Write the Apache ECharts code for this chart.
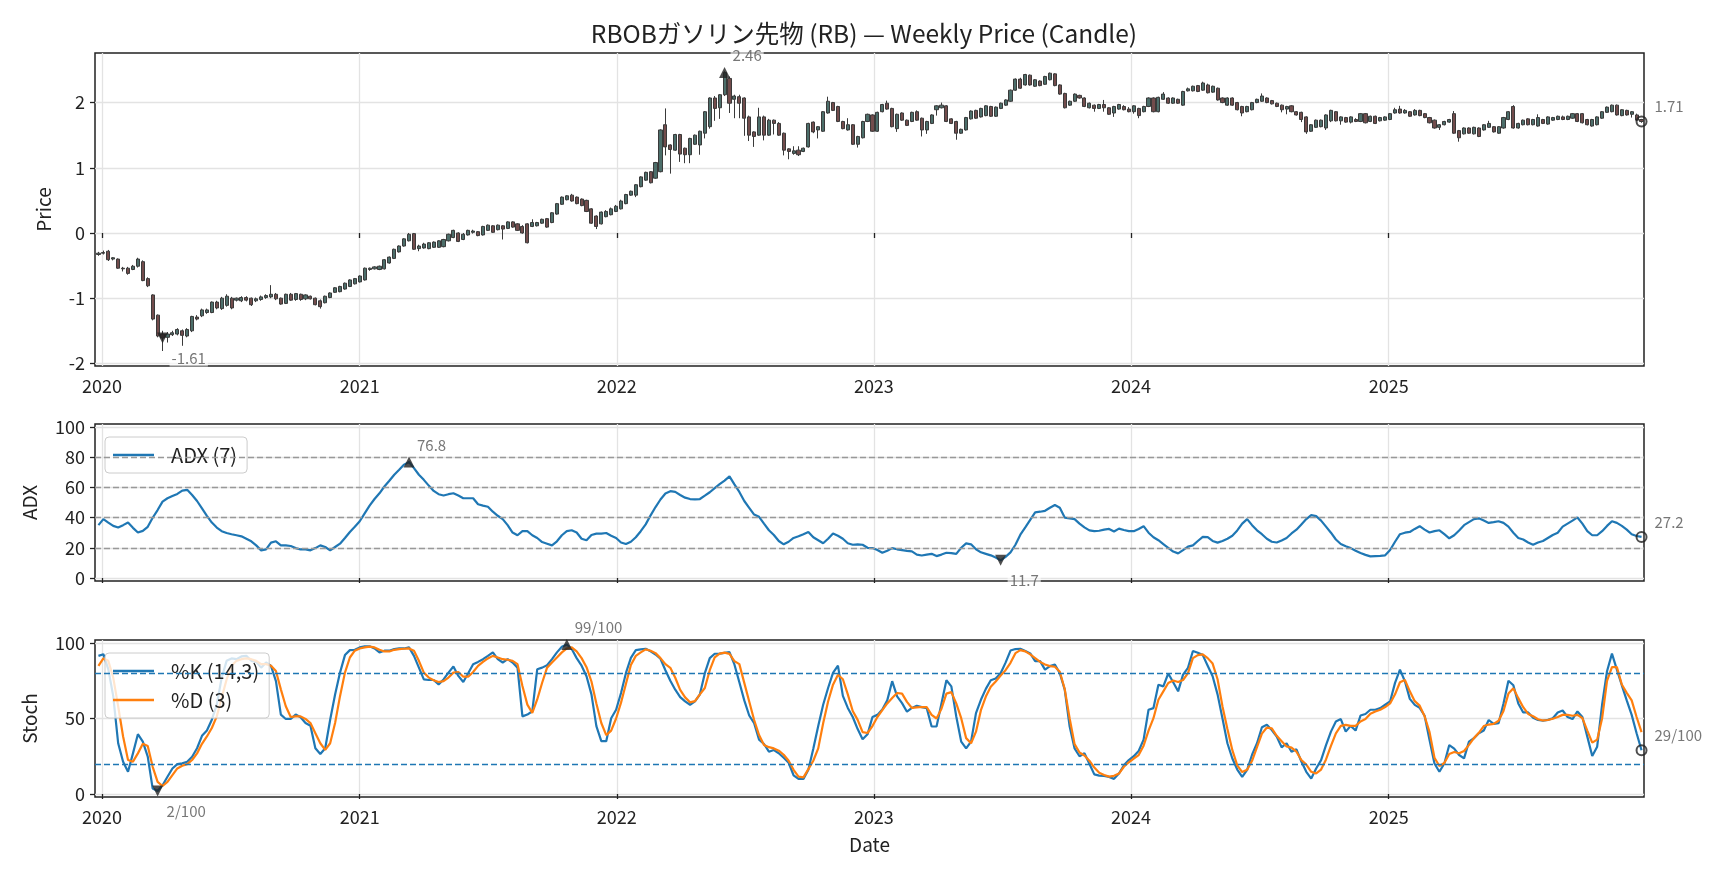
<!DOCTYPE html>
<html>
<head>
<meta charset="utf-8">
<script src="https://cdn.jsdelivr.net/npm/echarts@6.0.0/dist/echarts.min.js"></script>
<style>
html,body{margin:0;padding:0;background:#ffffff;}
#chart{width:1728px;height:878px;}
</style>
</head>
<body>
<div id="chart"></div>
<script>
// ---------------- data ----------------
const startDate = Date.UTC(2019, 11, 27);   // first weekly bar
const WEEK_MS = 7 * 86400000;
const yearTicks = [2020, 2021, 2022, 2023, 2024, 2025];
const priceTicks = [-2, -1, 0, 1, 2];
const adxTicks = [0, 20, 40, 60, 80, 100];
const stochTicks = [0, 50, 100];
const adxLevels = [20, 40, 60, 80];
const stochLevels = [20, 80];

const open = [
-0.33,-0.31,-0.28,-0.40,-0.40,-0.54,-0.54,-0.56,-0.51,-0.44,
-0.70,-0.95,-1.26,-1.55,-1.60,-1.56,-1.55,-1.50,-1.58,-1.50,
-1.29,-1.27,-1.22,-1.22,-1.06,-1.16,-1.11,-1.00,-1.03,-1.04,
-0.99,-1.00,-1.04,-1.02,-0.99,-0.98,-0.94,-1.00,-1.08,-0.94,
-1.02,-0.94,-1.01,-0.97,-1.00,-1.04,-1.07,-0.99,-0.91,-0.90,
-0.86,-0.82,-0.78,-0.75,-0.72,-0.56,-0.55,-0.56,-0.55,-0.46,
-0.39,-0.29,-0.20,-0.12,-0.01,-0.24,-0.23,-0.24,-0.22,-0.22,
-0.21,-0.12,-0.07,0.00,-0.10,-0.03,0.01,0.02,-0.03,0.04,
0.11,0.05,0.11,0.07,0.17,0.14,0.10,0.14,0.10,0.11,
0.15,0.22,0.16,0.29,0.44,0.51,0.58,0.55,0.52,0.50,
0.37,0.26,0.14,0.25,0.28,0.33,0.37,0.45,0.58,0.58,
0.71,0.81,0.94,0.84,0.94,1.66,1.35,1.27,1.51,1.30,
1.20,1.36,1.35,1.53,1.63,2.07,1.92,2.12,2.37,2.05,
2.09,2.07,1.78,1.55,1.50,1.78,1.50,1.73,1.68,1.53,
1.29,1.22,1.27,1.25,1.32,1.70,1.58,1.56,1.84,2.00,
1.94,1.71,1.58,1.66,1.36,1.46,1.71,1.81,1.56,1.86,
1.99,1.91,1.60,1.84,1.73,1.71,1.86,1.76,1.58,1.68,
1.89,1.92,1.95,1.75,1.71,1.53,1.58,1.75,1.88,1.78,
1.80,1.94,1.79,1.91,1.96,2.02,2.19,2.36,2.27,2.42,
2.25,2.33,2.28,2.35,2.44,2.27,2.14,1.96,2.02,2.11,
2.07,1.92,1.96,1.91,1.97,1.92,1.84,1.90,1.94,1.90,
1.86,1.91,1.86,1.94,2.07,1.86,2.05,2.07,1.99,2.05,
1.96,2.18,2.18,2.26,2.19,2.27,2.16,2.22,2.07,1.96,
2.07,2.00,1.94,1.86,1.89,2.00,2.02,2.07,2.03,1.99,
1.96,1.90,1.95,1.86,1.85,1.78,1.56,1.62,1.63,1.61,
1.72,1.86,1.72,1.77,1.70,1.74,1.71,1.83,1.71,1.79,
1.72,1.73,1.74,1.84,1.90,1.84,1.86,1.81,1.88,1.83,
1.77,1.73,1.62,1.66,1.70,1.83,1.57,1.52,1.61,1.52,
1.61,1.58,1.62,1.63,1.53,1.61,1.74,1.94,1.61,1.66,
1.75,1.66,1.64,1.74,1.67,1.73,1.74,1.78,1.74,1.76,
1.83,1.83,1.74,1.64,1.66,1.76,1.85,1.86,1.96,1.80,
1.88,1.82,1.81,1.74
];
const close = [
-0.31,-0.30,-0.41,-0.38,-0.54,-0.55,-0.62,-0.51,-0.40,-0.73,
-0.81,-1.32,-1.58,-1.61,-1.55,-1.53,-1.48,-1.57,-1.48,-1.28,
-1.32,-1.18,-1.18,-1.06,-1.15,-1.00,-0.97,-1.15,-1.00,-0.99,
-1.03,-1.10,-1.01,-0.98,-0.96,-0.94,-1.01,-1.09,-0.94,-1.03,
-0.93,-1.02,-0.95,-1.01,-1.10,-1.13,-0.97,-0.92,-0.84,-0.82,
-0.77,-0.72,-0.70,-0.66,-0.54,-0.54,-0.52,-0.51,-0.41,-0.37,
-0.25,-0.20,-0.09,-0.02,-0.25,-0.20,-0.17,-0.15,-0.14,-0.12,
-0.10,-0.02,0.04,-0.13,-0.02,0.04,0.03,-0.04,0.10,0.12,
0.01,0.12,0.06,0.17,0.09,0.04,0.00,-0.15,0.16,0.16,
0.21,0.09,0.31,0.45,0.55,0.57,0.49,0.45,0.42,0.33,
0.15,0.10,0.32,0.33,0.37,0.41,0.49,0.59,0.64,0.74,
0.86,0.93,0.77,1.08,1.58,1.32,1.28,1.51,1.21,1.20,
1.45,1.50,1.56,1.86,2.07,1.91,2.12,2.46,1.99,2.10,
1.99,1.76,1.50,1.48,1.78,1.50,1.73,1.68,1.50,1.27,
1.25,1.26,1.20,1.30,1.68,1.55,1.63,1.86,2.02,1.88,
1.71,1.60,1.66,1.36,1.48,1.71,1.82,1.56,1.85,1.97,
1.90,1.63,1.82,1.73,1.65,1.85,1.73,1.58,1.71,1.81,
1.95,1.96,1.71,1.68,1.53,1.59,1.77,1.87,1.76,1.91,
1.95,1.79,1.93,1.99,2.04,2.19,2.36,2.22,2.43,2.27,
2.35,2.26,2.40,2.45,2.26,2.13,1.92,2.02,2.13,2.07,
1.94,1.99,1.91,1.97,1.92,1.82,1.94,1.97,1.89,1.86,
1.95,1.80,1.94,2.07,1.86,2.08,2.13,1.99,2.07,1.99,
2.17,2.21,2.25,2.17,2.30,2.15,2.25,2.04,2.00,2.07,
1.96,1.89,1.84,1.94,2.00,2.05,2.10,2.00,1.98,1.94,
1.89,1.94,1.86,1.81,1.74,1.55,1.66,1.73,1.73,1.81,
1.88,1.72,1.78,1.70,1.78,1.71,1.83,1.69,1.79,1.68,
1.77,1.78,1.83,1.89,1.84,1.88,1.79,1.88,1.80,1.77,
1.69,1.61,1.66,1.71,1.74,1.53,1.46,1.61,1.53,1.62,
1.48,1.66,1.68,1.55,1.63,1.77,1.86,1.61,1.68,1.73,
1.66,1.74,1.77,1.68,1.78,1.77,1.79,1.74,1.79,1.83,
1.71,1.69,1.66,1.74,1.78,1.86,1.93,1.96,1.81,1.89,
1.81,1.86,1.73,1.71
];
const low = [
-0.35,-0.33,-0.43,-0.42,-0.55,-0.59,-0.64,-0.57,-0.53,-0.74,
-0.83,-1.34,-1.60,-1.81,-1.68,-1.58,-1.57,-1.73,-1.60,-1.52,
-1.34,-1.29,-1.24,-1.23,-1.17,-1.18,-1.13,-1.17,-1.05,-1.06,
-1.05,-1.12,-1.06,-1.04,-1.01,-1.00,-1.03,-1.10,-1.09,-1.04,
-1.04,-1.04,-1.03,-1.02,-1.11,-1.16,-1.08,-1.00,-0.92,-0.91,
-0.87,-0.83,-0.79,-0.76,-0.73,-0.58,-0.56,-0.57,-0.56,-0.47,
-0.40,-0.30,-0.21,-0.13,-0.26,-0.28,-0.24,-0.25,-0.23,-0.23,
-0.22,-0.13,-0.08,-0.14,-0.11,-0.04,-0.01,-0.05,-0.04,0.03,
0.00,0.04,-0.10,0.06,0.08,0.03,-0.01,-0.16,0.09,0.10,
0.14,0.08,0.15,0.28,0.43,0.50,0.48,0.44,0.41,0.32,
0.14,0.06,0.13,0.24,0.27,0.32,0.36,0.44,0.57,0.55,
0.70,0.80,0.76,0.83,0.93,1.19,0.91,1.26,1.09,1.07,
1.07,1.35,1.20,1.45,1.60,1.72,1.75,2.10,1.84,1.76,
1.76,1.49,1.41,1.32,1.49,1.42,1.49,1.51,1.49,1.19,
1.13,1.20,1.18,1.24,1.31,1.53,1.45,1.55,1.83,1.87,
1.70,1.59,1.57,1.35,1.31,1.45,1.70,1.55,1.55,1.85,
1.89,1.62,1.55,1.72,1.64,1.70,1.72,1.48,1.52,1.67,
1.80,1.91,1.70,1.67,1.43,1.52,1.57,1.74,1.75,1.77,
1.79,1.78,1.78,1.90,1.95,2.01,2.18,2.21,2.26,2.26,
2.24,2.25,2.27,2.34,2.25,2.12,1.91,1.95,2.01,2.06,
1.93,1.91,1.86,1.90,1.86,1.81,1.78,1.89,1.88,1.85,
1.83,1.76,1.85,1.93,1.85,1.85,2.04,1.98,1.98,1.98,
1.95,2.17,2.17,2.16,2.18,2.14,2.15,2.03,1.99,1.95,
1.95,1.88,1.79,1.85,1.88,1.99,2.01,1.99,1.97,1.93,
1.85,1.82,1.85,1.80,1.70,1.52,1.55,1.61,1.62,1.58,
1.70,1.71,1.66,1.69,1.68,1.70,1.70,1.68,1.70,1.67,
1.71,1.72,1.73,1.83,1.83,1.83,1.78,1.80,1.79,1.76,
1.68,1.60,1.58,1.65,1.69,1.52,1.40,1.51,1.52,1.51,
1.47,1.57,1.61,1.54,1.52,1.60,1.73,1.60,1.60,1.65,
1.65,1.65,1.63,1.67,1.66,1.72,1.73,1.73,1.73,1.75,
1.70,1.68,1.65,1.63,1.65,1.75,1.84,1.85,1.80,1.79,
1.80,1.77,1.72,1.69
];
const high = [
-0.29,-0.27,-0.26,-0.37,-0.39,-0.52,-0.52,-0.49,-0.38,-0.42,
-0.68,-0.94,-1.25,-1.50,-1.52,-1.50,-1.46,-1.48,-1.46,-1.27,
-1.26,-1.16,-1.16,-1.05,-1.04,-0.98,-0.94,-0.98,-0.99,-0.97,
-0.97,-0.99,-0.99,-0.96,-0.94,-0.80,-0.92,-0.99,-0.93,-0.92,
-0.92,-0.93,-0.94,-0.96,-0.99,-1.02,-0.96,-0.91,-0.83,-0.81,
-0.76,-0.71,-0.69,-0.65,-0.53,-0.53,-0.51,-0.50,-0.40,-0.36,
-0.24,-0.19,-0.08,0.00,0.00,-0.18,-0.15,-0.14,-0.13,-0.11,
-0.09,-0.01,0.05,0.01,0.00,0.05,0.05,0.03,0.11,0.13,
0.12,0.13,0.12,0.18,0.18,0.15,0.12,0.15,0.21,0.17,
0.22,0.23,0.32,0.46,0.56,0.58,0.60,0.56,0.53,0.51,
0.38,0.27,0.33,0.35,0.39,0.43,0.51,0.60,0.65,0.75,
0.87,0.94,0.95,1.09,1.59,1.91,1.36,1.52,1.52,1.31,
1.46,1.51,1.57,1.87,2.08,2.10,2.13,2.48,2.40,2.12,
2.12,2.08,1.80,1.56,1.92,1.80,1.75,1.74,1.70,1.54,
1.30,1.33,1.33,1.31,1.69,1.71,1.64,1.87,2.09,2.01,
1.95,1.72,1.76,1.67,1.49,1.72,1.83,1.82,1.86,1.98,
2.03,1.92,1.83,1.85,1.74,1.86,1.88,1.77,1.72,1.82,
1.96,2.00,1.96,1.76,1.72,1.60,1.78,1.88,1.89,1.92,
1.96,1.95,1.94,2.00,2.05,2.20,2.37,2.38,2.44,2.43,
2.36,2.34,2.41,2.46,2.45,2.28,2.15,2.03,2.14,2.12,
2.08,2.00,1.97,1.98,2.04,1.93,1.95,1.98,1.96,1.93,
1.96,1.92,1.95,2.08,2.08,2.09,2.16,2.08,2.08,2.06,
2.18,2.23,2.26,2.27,2.32,2.29,2.26,2.23,2.08,2.08,
2.08,2.01,1.95,1.95,2.01,2.06,2.14,2.08,2.04,2.00,
1.97,1.95,1.96,1.87,1.86,1.79,1.67,1.74,1.74,1.82,
1.89,1.87,1.79,1.78,1.79,1.76,1.84,1.84,1.80,1.80,
1.78,1.79,1.84,1.92,1.95,1.90,1.87,1.90,1.89,1.84,
1.78,1.74,1.67,1.72,1.75,1.87,1.58,1.62,1.62,1.63,
1.62,1.67,1.72,1.64,1.64,1.78,1.87,1.96,1.69,1.74,
1.76,1.75,1.82,1.75,1.79,1.78,1.80,1.80,1.80,1.84,
1.84,1.84,1.75,1.75,1.79,1.87,1.94,1.97,1.97,1.90,
1.89,1.87,1.83,1.75
];
const adx = [
35,39,36.7,34.5,33.4,35,36.7,33.2,30.1,31.2,
33.9,39.9,45,50.6,52.8,54.3,55.7,57.9,58.4,55,
51,46.1,41.2,36.7,33.4,31,29.8,29,28.3,27.6,
26,24.3,21.6,18.3,18.9,23.4,24.3,21.6,21.6,21.2,
19.8,18.9,18.9,18.3,19.8,21.6,20.5,18.3,20.5,22.7,
26.5,30.5,33.9,37.6,42.8,47.9,52.3,56.1,60.6,64.4,
68.4,71.7,75.1,76.8,72.8,68.4,65,61.2,57.7,55.5,
54.6,55.5,56.1,54.6,52.8,52.8,52.8,48.8,47.9,47.2,
43.9,41.2,39,35,30.1,28.3,31,31,28.3,26.5,
23.8,22.7,21.6,24.3,28.3,31,31.6,30.1,26,25,
28.5,29.4,29.4,29.8,28,26.5,23.5,22.5,24,27,
31,35.5,41.5,47,52,56,57.5,57,55,53.2,
52.3,52.1,52.3,54.5,56.8,59.5,62.1,64.5,67.3,62,
57,51,46.5,42,40.5,36,31.6,28.5,24.5,22.3,
24,26.5,27.6,29,30.5,27,25,23,26,29.5,
28,26,23,22,22.3,22,20,19.8,18.5,16.7,
18,19.8,19,18.5,18,17.6,15.5,14.9,15.5,16,
14.5,15.5,16.7,16.5,16,20,22.9,22.3,19,17,
16,15,13.5,11.7,14,17,22,28.7,33.5,38.5,
43.5,43.9,44.5,46.5,48.3,46.5,40,39.5,39,36,
33.5,31.5,31,31.3,32,32.5,30.8,32.7,31.8,31,
31,32.5,34.3,30,27,25,22.5,20,17.5,16.3,
18.5,20.8,21.6,24.5,27.2,27,24.5,23.4,24.5,26,
28,31.5,36,39,35,31.6,29,26,24,23.5,
24.9,26.5,29.5,32,35.5,39,41.6,41,38,34,
30,25.5,22.5,21,19.8,18,16.5,15.3,14.3,14.5,
14.7,15,18.5,24,29,30,30.5,32.5,34.3,32,
30.1,31,31.6,29,26.3,28.3,31.5,35,37,39,
39.5,38,36.5,37,37.6,36.5,34,30,26.5,25.5,
23.5,22,23.5,24.5,26.5,28.5,30,34,36,38,
40.1,36,31,28.3,28.3,31,34.5,37.6,36.5,34.5,
32,29,27.8,27.2
];
const stochK = [
91.5,92.6,82.6,64.8,33.6,21.4,14.7,26.9,39.6,34.7,
24.7,3.6,2,5.8,11.4,16.9,19.8,20.3,21.4,24.7,
30.3,38.5,42.1,49.2,59.2,77.1,88.2,89.8,89.3,91.1,
91.5,88.2,87.5,83.7,87.1,84.9,74.8,52.6,49.7,49.7,
52.6,50.8,47,45.2,30.3,26.5,30.3,49.2,65.9,80.4,
92,95.3,95.5,97.1,97.8,97.8,96.4,93.8,94.9,94.9,
96,96.4,96.4,97.1,91.5,83.7,75.9,75.5,75.5,72.6,
75.9,80.4,84.4,78.2,74.2,80,86,87.5,89.3,91.5,
93.8,89.3,87.1,89.3,87.1,83.7,51.4,52.6,54.8,82.6,
83.7,85.3,89.3,93.8,97.5,99,96,90,85,78,
66,45,35,35,50.2,55.8,66.9,80.2,90.2,95.3,
95.8,96.2,94.5,92.4,89.6,82,75,69.1,64.2,61.3,
59.1,61.3,66,80,90,92.9,93,93.5,94,85.8,
74,62,52,46.9,36,33.1,28,29.1,27,24,
20.7,12.4,10,10,16,30,45,59.1,70.2,80.2,
85,65,57,51,43,36.2,39.5,51,52.4,56,
62,74.7,64.7,60.2,54.5,57,58.4,57.5,56.9,44.7,
44.7,60,75.3,71.3,51.3,34.7,30.2,34.7,53.6,62.4,
69.6,75.3,76.5,80,87,95,96,96.2,94.7,93.1,
88,88,82.4,84.7,85.8,80,69.1,44.7,30.2,25,
27,20,13,12.2,12,11.3,10,13.6,19,22.5,
25,28.5,36,55.8,56.9,72.4,71.3,79.8,74,68,
79.1,83.6,94.7,93.6,92,85,78,66,50,33.6,
23.5,16.2,11.3,16,26,33.6,44.2,45.8,42.4,38,
30.9,33.6,28,29.6,21.5,14.7,10.2,16.9,22.4,32.4,
41.3,48,49.6,41.3,45.1,42,52,53,55.8,55.8,
56.9,59.1,61.3,73.6,82.4,74.7,63,59,57,51.8,
35.8,20.2,14.7,20.2,32.4,30,25.8,23.6,34.7,36.9,
40.2,42,49,46.4,46.9,60,75,72,60,54,
54,50.5,49,48.5,49.1,50.2,54,55.3,51,49.6,
54.7,51,38,25.1,31.3,59.1,81.3,93,82.4,72,
62,52.4,40.2,29
];
const stochD = [
84.9,89.8,88.2,77.1,58.1,38.1,22.5,21.4,26.9,33.2,
31.8,18,8,5.3,8,12.5,16.9,18.7,19.8,22.5,
26.9,33.2,38.1,43.7,51.4,63.7,75.9,84.9,88.2,89.3,
89.8,89.3,88.2,86,86,84.9,81.5,69.3,58.1,51,
51.4,51.4,49.7,47,40.3,33.6,29.2,33.6,47,64.8,
80.4,90.4,94.9,96.4,97.1,97.6,97.1,95.5,94.4,94.4,
95.5,96,96.2,96.4,94.9,88.2,80.4,77.1,75.3,74.2,
74.8,77.1,80.4,80.8,77.7,77.7,80.8,84.9,87.5,89.8,
91.5,90.4,89.3,88.9,88.2,86,71.5,59.2,53.7,62.6,
73.7,83.7,87.1,90.4,93.8,96.4,97.1,94.5,90,84,
74.5,60,47,39,42,50,60.5,73,85.5,91.5,
93.8,95.8,94.9,93.3,90,86,83.6,77,69,64,
60.7,61.5,66,70.2,82,90.5,93,93.6,92.8,88,
86,73.6,61.3,49,39,32.5,31,30.2,28.7,26,
22,16,11.5,11,16.5,22,30.2,46.9,61.3,72.4,
79,76,66,55,49.1,41,40.4,45,51,55.5,
60,63.6,66.9,66.5,61,57,57.4,57.6,57.6,52.4,
50,56.5,66.5,67.5,60,50.2,37,33.6,41.3,55.5,
64.5,71,74.5,78.5,82,86.9,93.3,95.3,94.5,92.5,
90,87.5,85.8,84.7,84.3,81,69.5,50,33,27.5,
25.5,22,17.5,14,12.6,11.5,12,13.5,18,21,
23.5,25.8,32,42,50.2,62.4,68,73.5,75.2,74.2,
75.5,80,90,92,92.5,90,86.4,76,58,43,
29,19,14.5,16,22,31,40,44,43.5,38.5,
35,31.5,30.7,28,22.5,19.5,14.7,13.6,16.2,22.9,
31.8,40.2,45.1,45.8,45.1,45.1,48,49.6,53.1,54.6,
55.8,57.6,60,66,74,75.5,68,61.5,58.5,51.5,
41,24,18.5,20.5,26.5,27.8,27,28.5,32.5,37,
40.5,45,46,46.4,48.5,55,66.5,70,63.5,57.5,
53,51.5,49.5,48.7,49,49.8,51,52.4,52.4,51.8,
52.4,50.2,42,34,36,50,75,84,84,72.5,
67,62,51,41
];

// ---------------- helpers ----------------
const FONT = '"Noto Sans CJK JP", "Noto Sans", sans-serif';
const times = open.map((_, i) => startDate + i * WEEK_MS);
const yearTs = yearTicks.map(y => Date.UTC(y, 0, 1));
const xMin = startDate - 0.7 * WEEK_MS;
const xMax = startDate + 313.5 * WEEK_MS;

function argMax(a){let b=0;for(let i=1;i<a.length;i++) if(a[i]>a[b]) b=i;return b;}
function argMin(a){let b=0;for(let i=1;i<a.length;i++) if(a[i]<a[b]) b=i;return b;}

function marker(i, arr, kind, text) {
  const item = { value: [times[i], arr[i]] };
  const lbl = {
    show: true, formatter: text, position: 'inside', align: 'left', verticalAlign: 'middle',
    color: '#555', fontSize: 15, fontFamily: FONT,
    backgroundColor: 'rgba(255,255,255,0.75)', padding: [1, 2]
  };
  if (kind === 'max') {
    item.symbol = 'triangle'; item.symbolSize = [11, 11];
    item.itemStyle = { color: '#222' }; lbl.offset = [6, -17];
  } else if (kind === 'min') {
    item.symbol = 'triangle'; item.symbolRotate = 180; item.symbolSize = [11, 11];
    item.itemStyle = { color: '#222' }; lbl.offset = [7, 20];
  } else {
    item.symbol = 'circle'; item.symbolSize = 10;
    item.itemStyle = { color: 'rgba(255,255,255,0)', borderColor: '#222', borderWidth: 2 };
    lbl.offset = [11, -15];
  }
  item.label = lbl;
  return item;
}

function xAxisCfg(idx, showLabels, name) {
  const c = {
    type: 'value', gridIndex: idx, min: xMin, max: xMax,
    axisLine: { show: false },
    axisTick: { show: true, customValues: yearTs, length: 5, lineStyle: { color: '#222', width: 1.3 } },
    axisLabel: { show: showLabels, customValues: yearTs, margin: 11, fontSize: 18, color: '#222', fontFamily: FONT,
      formatter: v => String(new Date(v).getUTCFullYear()) },
    splitLine: { show: true, lineStyle: { color: '#e3e3e3', width: 1.3 } }
  };
  if (name) {
    c.name = name; c.nameLocation = 'middle'; c.nameGap = 38;
    c.nameTextStyle = { fontSize: 19, color: '#222', fontFamily: FONT };
  }
  return c;
}
function yAxisCfg(idx, min, max, ticks, name, gap) {
  return {
    type: 'value', gridIndex: idx, min: min, max: max,
    axisLine: { show: false },
    axisTick: { show: true, customValues: ticks, length: 5, lineStyle: { color: '#222', width: 1.3 } },
    axisLabel: { customValues: ticks, margin: 10, fontSize: 18, color: '#222', fontFamily: FONT },
    splitLine: { show: true, lineStyle: { color: '#e3e3e3', width: 1.3 } },
    name: name, nameLocation: 'middle', nameGap: gap,
    nameTextStyle: { fontSize: 19, color: '#222', fontFamily: FONT }
  };
}

const gridBase = { left: 95, right: 84, show: true, borderColor: '#222', borderWidth: 1.5, backgroundColor: 'rgba(0,0,0,0)' };

const candleData = times.map((t, i) => [t, open[i], close[i], low[i], high[i]]);
const adxData = times.map((t, i) => [t, adx[i]]);
const kData = times.map((t, i) => [t, stochK[i]]);
const dData = times.map((t, i) => [t, stochD[i]]);
const last = times.length - 1;

const iMaxC = argMax(close), iMinC = argMin(close);
const iMaxA = argMax(adx), iMinA = argMin(adx);
const iMaxK = argMax(stochK), iMinK = argMin(stochK);

const legendCommon = {
  orient: 'vertical', left: 105, icon: 'rect', itemWidth: 41, itemHeight: 2.6, itemGap: 9,
  padding: [8, 10, 8, 8], backgroundColor: 'rgba(255,255,255,0.8)',
  borderColor: '#cccccc', borderWidth: 1, borderRadius: 4, selectedMode: false,
  textStyle: { fontSize: 20, color: '#222', fontFamily: FONT, padding: [0, 0, 0, 12] }
};

const option = {
  animation: false,
  backgroundColor: '#ffffff',
  textStyle: { fontFamily: FONT },
  title: {
    text: 'RBOBガソリン先物 (RB) — Weekly Price (Candle)',
    left: 'center', top: 16,
    textStyle: { fontSize: 24.5, fontWeight: 'normal', color: '#222', fontFamily: FONT }
  },
  legend: [
    Object.assign({}, legendCommon, { top: 437, data: ['ADX (7)'] }),
    Object.assign({}, legendCommon, { top: 653, data: ['%K (14,3)', '%D (3)'] })
  ],
  grid: [
    Object.assign({}, gridBase, { top: 53, height: 313 }),
    Object.assign({}, gridBase, { top: 424, height: 157 }),
    Object.assign({}, gridBase, { top: 640, height: 157 })
  ],
  xAxis: [ xAxisCfg(0, true), xAxisCfg(1, false), xAxisCfg(2, true, 'Date') ],
  yAxis: [
    yAxisCfg(0, -2.04, 2.76, priceTicks, 'Price', 42),
    yAxisCfg(1, -2, 102, adxTicks, 'ADX', 56),
    yAxisCfg(2, -2, 102, stochTicks, 'Stoch', 56)
  ],
  series: [
    {
      type: 'candlestick', name: 'RB', xAxisIndex: 0, yAxisIndex: 0,
      data: candleData, barWidth: 3.6,
      itemStyle: { color: '#4c6e6a', color0: '#724c4c', borderColor: '#3a3a3a', borderColor0: '#3a3a3a', borderWidth: 1 }
    },
    {
      type: 'scatter', xAxisIndex: 0, yAxisIndex: 0, z: 6, clip: false, silent: true,
      data: [
        marker(iMaxC, close, 'max', close[iMaxC].toFixed(2)),
        marker(iMinC, close, 'min', close[iMinC].toFixed(2)),
        marker(last, close, 'last', close[last].toFixed(2))
      ]
    },
    {
      type: 'line', name: 'adxLevels', xAxisIndex: 1, yAxisIndex: 1, z: 1, silent: true,
      data: adxData, symbol: 'none', lineStyle: { opacity: 0 },
      markLine: { silent: true, symbol: 'none', label: { show: false }, animation: false,
        lineStyle: { color: '#999999', type: [6, 3], width: 1.4 },
        data: adxLevels.map(v => ({ yAxis: v })) }
    },
    {
      type: 'line', name: 'ADX (7)', xAxisIndex: 1, yAxisIndex: 1, z: 3,
      data: adxData, symbol: 'none', showSymbol: false,
      lineStyle: { color: '#1f77b4', width: 2.2 }, itemStyle: { color: '#1f77b4' }
    },
    {
      type: 'scatter', xAxisIndex: 1, yAxisIndex: 1, z: 6, clip: false, silent: true,
      data: [
        marker(iMaxA, adx, 'max', adx[iMaxA].toFixed(1)),
        marker(iMinA, adx, 'min', adx[iMinA].toFixed(1)),
        marker(last, adx, 'last', adx[last].toFixed(1))
      ]
    },
    {
      type: 'line', name: 'stochLevels', xAxisIndex: 2, yAxisIndex: 2, z: 1, silent: true,
      data: kData, symbol: 'none', lineStyle: { opacity: 0 },
      markLine: { silent: true, symbol: 'none', label: { show: false }, animation: false,
        lineStyle: { color: '#1f77b4', type: [6, 3], width: 1.4 },
        data: stochLevels.map(v => ({ yAxis: v })) }
    },
    {
      type: 'line', name: '%K (14,3)', xAxisIndex: 2, yAxisIndex: 2, z: 3,
      data: kData, symbol: 'none', showSymbol: false,
      lineStyle: { color: '#1f77b4', width: 2.2 }, itemStyle: { color: '#1f77b4' }
    },
    {
      type: 'line', name: '%D (3)', xAxisIndex: 2, yAxisIndex: 2, z: 3,
      data: dData, symbol: 'none', showSymbol: false,
      lineStyle: { color: '#ff7f0e', width: 2.2 }, itemStyle: { color: '#ff7f0e' }
    },
    {
      type: 'scatter', xAxisIndex: 2, yAxisIndex: 2, z: 6, clip: false, silent: true,
      data: [
        marker(iMaxK, stochK, 'max', Math.round(stochK[iMaxK]) + '/100'),
        marker(iMinK, stochK, 'min', Math.round(stochK[iMinK]) + '/100'),
        marker(last, stochK, 'last', Math.round(stochK[last]) + '/100')
      ]
    }
  ]
};

const chart = echarts.init(document.getElementById('chart'), null, { renderer: 'canvas' });
chart.setOption(option);
</script>
</body>
</html>
